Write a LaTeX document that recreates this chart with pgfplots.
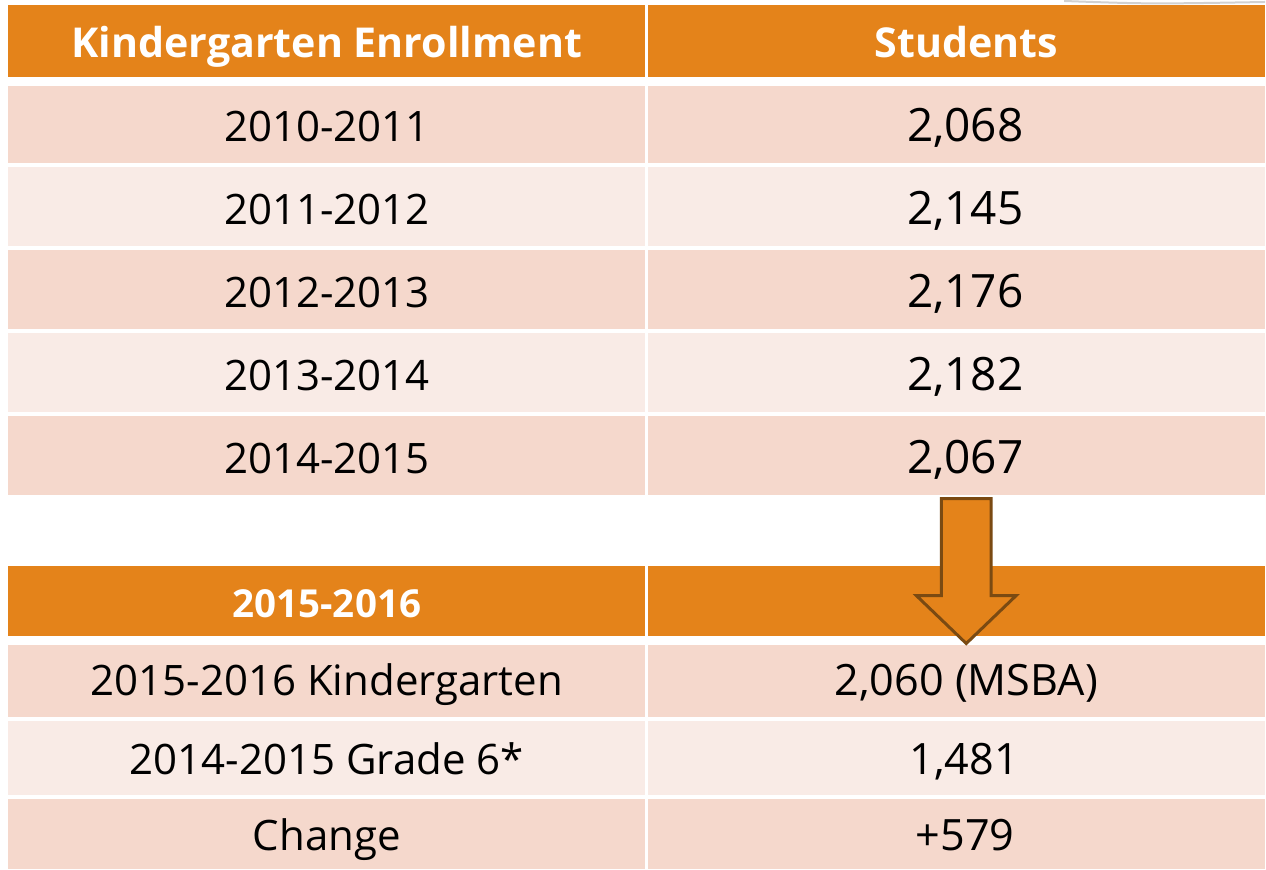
\documentclass[border=0pt]{standalone}
\usepackage{fontspec}
\setmainfont{Open Sans}
\usepackage{pgfplots}
\pgfplotsset{compat=1.18}
\definecolor{hdr}{HTML}{E4831A}
\definecolor{rowA}{HTML}{F5D8CC}
\definecolor{rowB}{HTML}{F9EBE6}
\definecolor{arrowedge}{HTML}{7A4A12}
\newcommand\hA{\fontsize{20.6}{24}\selectfont}
\newcommand\hB{\fontsize{19.3}{23}\selectfont}
\newcommand\nA{\fontsize{23}{27}\selectfont}
\newcommand\nB{\fontsize{21.6}{25}\selectfont}

% cell texts: x, baseline y (pixel units, y down)
\pgfplotstableread{
x    y    label
327  58   {\hA Kindergarten Enrollment}
967  58   {\hA Students}
327  618  {\hB 2015-2016}
}\headtab
\pgfplotstableread{
x    y    label
327  142  {2010-2011}
966  142  {\nA 2,068}
327  225  {2011-2012}
966  225  {\nA 2,145}
327  308  {2012-2013}
966  308  {\nA 2,176}
327  391  {2013-2014}
966  391  {\nA 2,182}
327  474  {2014-2015}
966  474  {\nA 2,067}
327  696  {2015-2016 Kindergarten}
967  696  {\nB 2,060 (MSBA)}
327  775  {2014-2015 Grade 6*}
965  775  {\nB 1,481}
327  851  {Change}
966  851  {\nB +579}
}\bodytab

\begin{document}
\begin{tikzpicture}
\begin{axis}[
  x=0.5pt, y=0.5pt,
  xmin=0, xmax=1266, ymin=0, ymax=870,
  y dir=reverse,
  hide axis, clip=false,
  nodes near coords align={anchor=base},
]
\path (axis cs:0,0) rectangle (axis cs:1266,870);
% top-right shadow of slide decoration
\draw[black!18, line width=1pt] (axis cs:1065,1) .. controls (axis cs:1150,4) .. (axis cs:1266,2);

% first table
\fill[hdr]  (axis cs:8,5)    rectangle (axis cs:645,77);
\fill[hdr]  (axis cs:649,5)  rectangle (axis cs:1266,77);
\fill[rowA] (axis cs:8,86)   rectangle (axis cs:645,163);
\fill[rowA] (axis cs:649,86) rectangle (axis cs:1266,163);
\fill[rowB] (axis cs:8,167)  rectangle (axis cs:645,246);
\fill[rowB] (axis cs:649,167) rectangle (axis cs:1266,246);
\fill[rowA] (axis cs:8,250)  rectangle (axis cs:645,329);
\fill[rowA] (axis cs:649,250) rectangle (axis cs:1266,329);
\fill[rowB] (axis cs:8,333)  rectangle (axis cs:645,412);
\fill[rowB] (axis cs:649,333) rectangle (axis cs:1266,412);
\fill[rowA] (axis cs:8,416)  rectangle (axis cs:645,495);
\fill[rowA] (axis cs:649,416) rectangle (axis cs:1266,495);

% second table
\fill[hdr]  (axis cs:8,566)  rectangle (axis cs:645,637);
\fill[hdr]  (axis cs:649,566) rectangle (axis cs:1266,637);
\fill[rowA] (axis cs:8,646)  rectangle (axis cs:645,718);
\fill[rowA] (axis cs:649,646) rectangle (axis cs:1266,718);
\fill[rowB] (axis cs:8,722)  rectangle (axis cs:645,796);
\fill[rowB] (axis cs:649,722) rectangle (axis cs:1266,796);
\fill[rowA] (axis cs:8,800)  rectangle (axis cs:645,870);
\fill[rowA] (axis cs:649,800) rectangle (axis cs:1266,870);

% arrow
\draw[arrowedge, line width=1.5pt, fill=hdr, line join=miter]
  (axis cs:942,499) -- (axis cs:992,499) -- (axis cs:992,596) -- (axis cs:1017,596)
  -- (axis cs:967,644) -- (axis cs:917,596) -- (axis cs:942,596) -- cycle;

\addplot[draw=none, mark=none, nodes near coords, point meta=explicit symbolic,
  every node near coord/.append style={text=white, font=\bfseries, inner sep=0pt}]
  table[x=x, y=y, meta=label] {\headtab};
\addplot[draw=none, mark=none, nodes near coords, point meta=explicit symbolic,
  every node near coord/.append style={text=black, font=\fontsize{21}{25}\selectfont, inner sep=0pt}]
  table[x=x, y=y, meta=label] {\bodytab};
\end{axis}
\end{tikzpicture}
\end{document}
